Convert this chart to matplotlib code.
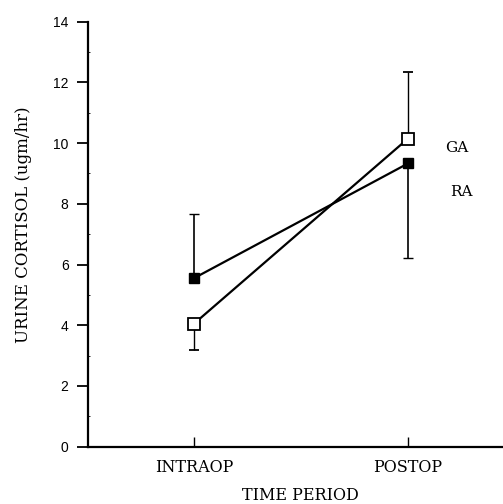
import matplotlib
matplotlib.use("Agg")
import matplotlib.pyplot as plt
import numpy as np

periods = ["INTRAOP", "POSTOP"]
ga_mean = [4.05, 10.15]
ga_err_lower = [0.85, 0.0]
ga_err_upper = [0.0, 2.2]
ra_mean = [5.55, 9.33]
ra_err_lower = [0.0, 3.13]
ra_err_upper = [2.1, 0.0]

fig = plt.figure(figsize=(5.03, 5.04), dpi=100)
ax = fig.add_axes([88/503, 1-446.7/504, 1-88/503, (446.7-21.7)/504])

x = np.arange(len(periods))
serif = "DejaVu Serif"

ax.errorbar(x, ga_mean, yerr=[ga_err_lower, ga_err_upper], color="black", lw=1.6,
            elinewidth=1.0, capsize=3.5, capthick=1.0, marker="s", ms=8,
            mfc="white", mec="black", mew=1.3, zorder=3)
ax.errorbar(x, ra_mean, yerr=[ra_err_lower, ra_err_upper], color="black", lw=1.6,
            elinewidth=1.2, capsize=3.5, capthick=1.0, marker="s", ms=7.5,
            mfc="black", mec="black", mew=1.0, zorder=3)

ax.set_xlim(-0.495, 1.444)
ax.set_ylim(0, 14)
ax.set_yticks(np.arange(0, 15, 2))
ax.set_yticks(np.arange(1, 14, 2), minor=True)
ax.set_xticks(x)
ax.set_xticklabels(periods, fontfamily=serif, fontsize=11.5)
for s in ["top", "right"]:
    ax.spines[s].set_visible(False)
ax.spines["left"].set_linewidth(1.6)
ax.spines["bottom"].set_linewidth(1.6)
ax.tick_params(axis="y", which="major", direction="out", length=8, width=1.3,
               labelsize=10, pad=6)
ax.tick_params(axis="y", which="minor", direction="in", length=1.5, width=0.6)
ax.tick_params(axis="x", direction="in", length=7, width=1.0, pad=9)
for lab in ax.get_yticklabels():
    lab.set_fontfamily("Liberation Sans")

fig.text(457/503, 1-148/504, "GA", fontfamily=serif, fontsize=11, ha="center", va="center")
fig.text(461/503, 1-192/504, "RA", fontfamily=serif, fontsize=11, ha="center", va="center")
fig.text(24/503, 1-225/504, "URINE CORTISOL (ugm/hr)", fontfamily=serif, fontsize=12,
         rotation=90, ha="center", va="center")
fig.text(300/503, 1-496/504, "TIME PERIOD", fontfamily=serif, fontsize=11.5,
         ha="center", va="center")

fig.savefig("out.png", dpi=100)
